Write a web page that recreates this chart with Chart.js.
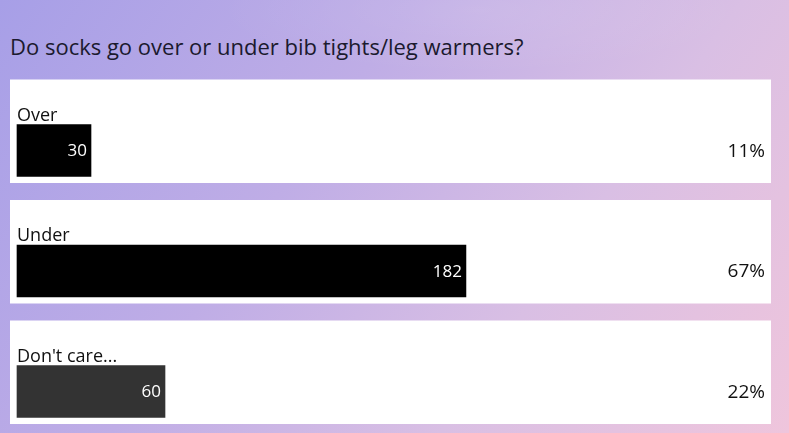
<!DOCTYPE html>
<html>
<head>
<meta charset="utf-8">
<script src="https://cdn.jsdelivr.net/npm/chart.js@4"></script>
<style>
  html, body { margin: 0; padding: 0; }
  body {
    width: 789px; height: 433px; overflow: hidden; position: relative;
    background:
      radial-gradient(ellipse 380px 90px at 480px 10px, rgba(255,255,255,0.10), rgba(255,255,255,0) 70%),
      linear-gradient(125deg, #a79fe7 0%, #bfade6 38%, #d9bfe4 68%, #efc5dc 100%);
  }
  #title {
    position: absolute; left: 10px; top: 31px;
    font-family: "Open Sans", sans-serif; font-size: 22px; color: #1b1a2e;
    white-space: nowrap;
  }
  #wrap { position: absolute; left: 0; top: 0; width: 789px; height: 433px; }
</style>
</head>
<body>
<div id="title">Do socks go over or under bib tights/leg warmers?</div>
<div id="wrap"><canvas id="poll-chart"></canvas></div>
<script>
const answers = ["Over", "Under", "Don't care..."];
const votes = [30, 182, 60];
const barColors = ["#000000", "#000000", "#333333"];

document.addEventListener("DOMContentLoaded", function(){
    const total = votes.reduce((a, b) => a + b, 0);
    const fontFamily = "'Open Sans', sans-serif";

    // white cards behind each answer, plus labels and percentages
    const cardsPlugin = {
        id: "cards",
        beforeDatasetsDraw(chart){
            const ctx = chart.ctx;
            const yScale = chart.scales.y;
            ctx.save();
            ctx.fillStyle = "#ffffff";
            answers.forEach((a, i) => {
                const center = yScale.getPixelForValue(i);
                ctx.fillRect(10, center - 71, 761, 103.5);
            });
            ctx.restore();
        },
        afterDatasetsDraw(chart){
            const ctx = chart.ctx;
            const meta = chart.getDatasetMeta(0);
            ctx.save();
            meta.data.forEach((bar, i) => {
                const top = bar.y - bar.height / 2;
                ctx.fillStyle = "#111111";
                ctx.font = `18px ${fontFamily}`;
                ctx.textAlign = "left";
                ctx.textBaseline = "alphabetic";
                ctx.fillText(answers[i], 17, top - 4);

                ctx.fillStyle = "#ffffff";
                ctx.font = `17px ${fontFamily}`;
                ctx.textAlign = "right";
                ctx.textBaseline = "middle";
                ctx.fillText(votes[i], bar.x - 4, bar.y + 1);

                ctx.fillStyle = "#111111";
                ctx.font = `19px ${fontFamily}`;
                ctx.fillText(`${Math.round(votes[i] / total * 100)}%`, 765, bar.y + 1);
            });
            ctx.restore();
        }
    };

    new Chart(document.getElementById("poll-chart"), {
        type: "bar",
        data: {
            labels: answers,
            datasets: [{
                data: votes,
                backgroundColor: barColors,
                barThickness: 52,
                borderWidth: 0,
                clip: false
            }]
        },
        options: {
            indexAxis: "y",
            responsive: true,
            maintainAspectRatio: false,
            animation: false,
            layout: { padding: { top: 150.5, bottom: 41.5, left: 17, right: 32 } },
            scales: {
                x: { display: false, min: 0, max: 300 },
                y: { display: false, offset: false }
            },
            plugins: {
                legend: { display: false },
                tooltip: { enabled: false }
            }
        },
        plugins: [cardsPlugin]
    });
});
</script>
</body>
</html>
